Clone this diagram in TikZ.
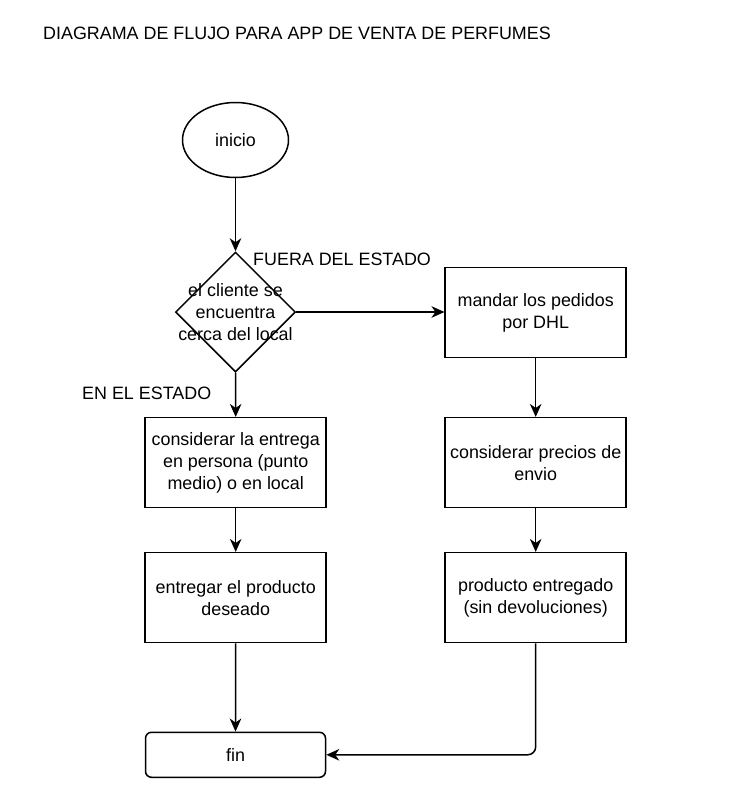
\documentclass[tikz,border=0pt]{standalone}
\usepackage{fontspec}
\setmainfont{Liberation Sans}
\usetikzlibrary{shapes.geometric,arrows.meta}
\begin{document}
\begin{tikzpicture}[x=1pt,y=-1pt,
  every node/.style={font=\fontsize{17.9}{22}\selectfont, text=black},
  line/.style={draw=black, line width=1.5pt},
  arr/.style={line, -{Stealth[length=13pt,width=11.5pt,inset=4pt]}},
  procbox/.style={line, rectangle, minimum width=181pt, minimum height=90pt, inner sep=0pt, align=center},
  freetext/.style={inner sep=0pt, anchor=west}
]
\useasboundingbox (0,0) rectangle (729,795);
\fill[white] (0,0) rectangle (729,795);

\node[freetext] (title) at (43,33) {DIAGRAMA DE FLUJO PARA APP DE VENTA DE PERFUMES};

\node[line, ellipse, minimum width=106pt, minimum height=75pt, inner sep=0pt] (inicio) at (235.5,140) {inicio};

\node[line, diamond, minimum width=120pt, minimum height=120pt, inner sep=0pt, shape aspect=1] (dec) at (235.5,312) {};
\node[inner sep=0pt, align=center] (dectext) at (235.5,312) {el cliente se\\encuentra\\cerca del local};

\node[procbox] (dhl) at (535.7,312.7) {mandar los pedidos\\por DHL};
\node[procbox] (entrega) at (235.7,462.7) {considerar la entrega\\en persona (punto\\medio) o en local};
\node[procbox] (precios) at (535.7,462.7) {considerar precios de\\envio};
\node[procbox] (entregar) at (235.7,597.7) {entregar el producto\\deseado};
\node[procbox] (prod) at (535.7,597.7) {producto entregado\\(sin devoluciones)};

\node[line, rectangle, rounded corners=6pt, minimum width=180pt, minimum height=45pt, inner sep=0pt] (fin) at (235.5,754.8) {fin};

\node[freetext] (fuera) at (253,259) {FUERA DEL ESTADO};
\node[freetext] (enel) at (82,393) {EN EL ESTADO};

\draw[arr] (inicio.south) -- (dec.north);
\draw[arr] (dec.east) -- (dhl.west |- dec.east);
\draw[arr] (dec.south) -- (entrega.north);
\draw[arr] (dhl.south) -- (precios.north);
\draw[arr] (entrega.south) -- (entregar.north);
\draw[arr] (precios.south) -- (prod.north);
\draw[arr] (entregar.south) -- (fin.north);
\draw[arr, rounded corners=8pt] (prod.south) |- (fin.east);
\end{tikzpicture}
\end{document}
